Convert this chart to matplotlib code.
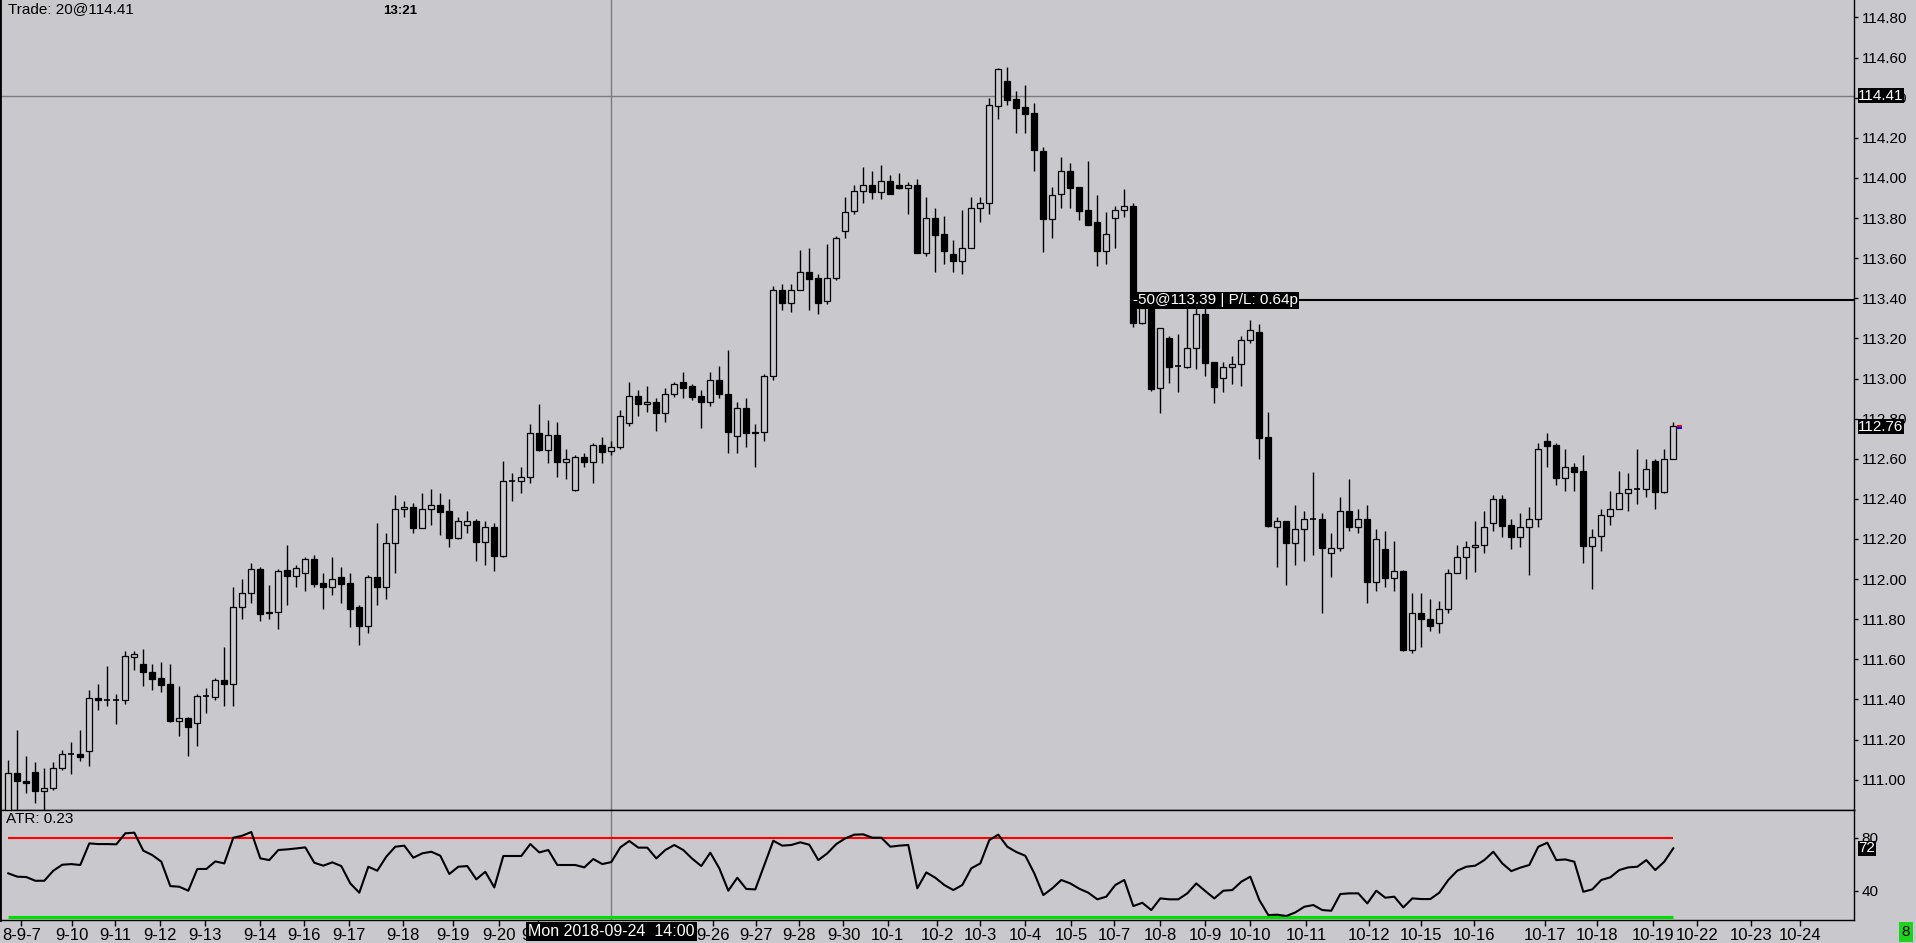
import matplotlib
matplotlib.use('Agg')
import matplotlib.pyplot as plt
import numpy as np

plt.rcParams['font.family'] = ['Liberation Sans', 'DejaVu Sans']

BG = '#c9c8cd'

opens = [110.80, 111.035, 110.996, 111.037, 110.946, 110.957, 111.057, 111.127, 111.128, 111.145,
         111.406, 111.395, 111.395, 111.395, 111.614, 111.577, 111.536, 111.506, 111.477, 111.295,
         111.306, 111.285, 111.416, 111.414, 111.496, 111.476, 111.860, 111.929, 112.049, 111.830,
         111.838, 112.046, 112.017, 112.029, 112.099, 111.979, 111.959, 112.009, 111.979, 111.860,
         111.768, 112.009, 111.959, 112.179, 112.348, 112.358, 112.257, 112.348, 112.368, 112.340,
         112.207, 112.268, 112.290, 112.187, 112.258, 112.117, 112.488, 112.488, 112.508, 112.727,
         112.644, 112.717, 112.586, 112.446, 112.607, 112.586, 112.667, 112.637, 112.657, 112.780,
         112.912, 112.872, 112.882, 112.830, 112.922, 112.981, 112.963, 112.912, 112.882, 112.991,
         112.922, 112.715, 112.852, 112.727, 112.735, 113.011, 113.440, 113.378, 113.440, 113.530,
         113.500, 113.388, 113.500, 113.737, 113.837, 113.935, 113.963, 113.932, 113.983, 113.963,
         113.952, 113.963, 113.628, 113.799, 113.721, 113.619, 113.588, 113.649, 113.849, 113.874,
         114.361, 114.482, 114.392, 114.354, 114.324, 114.135, 113.797, 113.922, 114.033, 113.955,
         113.841, 113.779, 113.638, 113.799, 113.839, 113.860, 113.279, 113.350, 112.951, 113.200,
         113.063, 113.059, 113.151, 113.320, 113.081, 113.001, 113.059, 113.071, 113.190, 113.230,
         112.707, 112.258, 112.288, 112.178, 112.248, 112.298, 112.298, 112.129, 112.157, 112.338,
         112.258, 112.298, 111.987, 112.148, 112.007, 112.040, 111.648, 111.830, 111.800, 111.780,
         111.850, 112.029, 112.109, 112.159, 112.169, 112.278, 112.398, 112.269, 112.209, 112.259,
         112.298, 112.687, 112.667, 112.506, 112.558, 112.538, 112.167, 112.217, 112.317, 112.348,
         112.428, 112.448, 112.448, 112.589, 112.436, 112.597]

highs = [111.099, 111.248, 111.119, 111.087, 111.057, 111.087, 111.148, 111.187, 111.248, 111.447,
         111.477, 111.567, 111.428, 111.642, 111.643, 111.650, 111.577, 111.585, 111.577, 111.468,
         111.315, 111.428, 111.456, 111.506, 111.662, 111.959, 111.999, 112.082, 112.062, 111.971,
         112.049, 112.170, 112.069, 112.112, 112.120, 112.029, 112.109, 112.062, 112.029, 111.871,
         112.021, 112.278, 112.228, 112.420, 112.390, 112.378, 112.429, 112.449, 112.429, 112.398,
         112.308, 112.340, 112.298, 112.290, 112.278, 112.589, 112.529, 112.561, 112.773, 112.873,
         112.793, 112.783, 112.649, 112.619, 112.627, 112.677, 112.710, 112.687, 112.843, 112.983,
         112.943, 112.963, 112.901, 112.953, 112.983, 113.033, 112.971, 112.943, 113.033, 113.063,
         113.142, 112.883, 112.901, 112.773, 113.021, 113.461, 113.471, 113.471, 113.641, 113.651,
         113.521, 113.671, 113.711, 113.905, 113.965, 114.055, 114.035, 114.065, 114.015, 114.025,
         113.982, 113.995, 113.905, 113.850, 113.809, 113.691, 113.840, 113.905, 113.905, 114.400,
         114.550, 114.555, 114.434, 114.464, 114.376, 114.153, 113.957, 114.105, 114.075, 113.955,
         114.085, 113.915, 113.831, 113.861, 113.945, 113.874, 113.360, 113.390, 113.250, 113.212,
         113.220, 113.350, 113.350, 113.350, 113.081, 113.081, 113.114, 113.212, 113.292, 113.272,
         112.833, 112.308, 112.288, 112.369, 112.338, 112.536, 112.329, 112.230, 112.409, 112.497,
         112.349, 112.369, 112.250, 112.240, 112.190, 112.045, 111.929, 111.930, 111.901, 111.891,
         112.049, 112.170, 112.190, 112.290, 112.340, 112.420, 112.420, 112.300, 112.328, 112.360,
         112.677, 112.727, 112.677, 112.649, 112.578, 112.619, 112.249, 112.350, 112.440, 112.539,
         112.529, 112.649, 112.599, 112.599, 112.649, 112.785]

lows = [110.780, 110.840, 110.932, 110.883, 110.849, 110.950, 111.049, 111.029, 111.093, 111.069,
        111.348, 111.368, 111.278, 111.378, 111.547, 111.467, 111.447, 111.438, 111.290, 111.218,
        111.119, 111.168, 111.331, 111.398, 111.369, 111.369, 111.803, 111.883, 111.793, 111.803,
        111.753, 111.873, 111.959, 111.943, 111.959, 111.853, 111.921, 111.883, 111.763, 111.673,
        111.733, 111.873, 111.903, 112.032, 112.312, 112.232, 112.257, 112.270, 112.220, 112.162,
        112.200, 112.232, 112.092, 112.071, 112.042, 112.112, 112.391, 112.431, 112.481, 112.639,
        112.581, 112.511, 112.499, 112.441, 112.561, 112.481, 112.581, 112.620, 112.650, 112.765,
        112.813, 112.835, 112.740, 112.785, 112.907, 112.905, 112.895, 112.755, 112.865, 112.903,
        112.631, 112.631, 112.661, 112.561, 112.690, 112.993, 113.342, 113.334, 113.440, 113.342,
        113.322, 113.372, 113.491, 113.701, 113.820, 113.875, 113.895, 113.895, 113.922, 113.945,
        113.820, 113.624, 113.611, 113.531, 113.571, 113.531, 113.521, 113.649, 113.782, 113.820,
        114.294, 114.364, 114.226, 114.226, 114.037, 113.633, 113.703, 113.852, 113.852, 113.791,
        113.763, 113.563, 113.573, 113.653, 113.804, 113.256, 113.270, 112.940, 112.827, 112.976,
        112.935, 113.050, 113.046, 113.013, 112.876, 112.935, 112.974, 112.964, 113.175, 112.601,
        112.262, 112.062, 111.972, 112.072, 112.092, 112.122, 111.833, 112.012, 112.142, 112.241,
        112.231, 111.883, 111.942, 111.962, 111.942, 111.640, 111.630, 111.664, 111.743, 111.733,
        111.833, 112.029, 112.001, 112.033, 112.132, 112.242, 112.212, 112.151, 112.162, 112.023,
        112.262, 112.561, 112.470, 112.441, 112.441, 112.082, 111.951, 112.141, 112.270, 112.348,
        112.342, 112.372, 112.411, 112.352, 112.431, 112.597]

closes = [111.035, 110.996, 110.986, 110.946, 110.957, 111.057, 111.127, 111.127, 111.115, 111.406,
          111.395, 111.395, 111.395, 111.617, 111.625, 111.536, 111.502, 111.472, 111.295, 111.306,
          111.265, 111.416, 111.416, 111.497, 111.476, 111.860, 111.929, 112.049, 111.828, 111.838,
          112.041, 112.017, 112.057, 112.099, 111.978, 111.959, 111.999, 111.978, 111.850, 111.768,
          112.009, 111.959, 112.179, 112.348, 112.358, 112.257, 112.348, 112.368, 112.337, 112.207,
          112.290, 112.290, 112.187, 112.258, 112.117, 112.488, 112.488, 112.508, 112.727, 112.644,
          112.717, 112.586, 112.597, 112.607, 112.586, 112.667, 112.636, 112.657, 112.812, 112.912,
          112.872, 112.882, 112.830, 112.922, 112.971, 112.951, 112.910, 112.882, 112.991, 112.922,
          112.735, 112.852, 112.727, 112.735, 113.011, 113.440, 113.378, 113.440, 113.530, 113.498,
          113.378, 113.500, 113.699, 113.829, 113.935, 113.963, 113.932, 113.983, 113.922, 113.952,
          113.963, 113.628, 113.799, 113.717, 113.638, 113.588, 113.649, 113.849, 113.874, 114.364,
          114.542, 114.389, 114.351, 114.321, 114.141, 113.797, 113.914, 114.033, 113.952, 113.837,
          113.766, 113.638, 113.719, 113.839, 113.859, 113.279, 113.350, 112.948, 113.250, 113.059,
          113.063, 113.151, 113.320, 113.079, 112.959, 113.059, 113.071, 113.190, 113.240, 112.705,
          112.267, 112.288, 112.178, 112.248, 112.298, 112.298, 112.157, 112.157, 112.338, 112.258,
          112.298, 111.987, 112.198, 112.007, 112.039, 111.648, 111.829, 111.800, 111.768, 111.850,
          112.029, 112.109, 112.159, 112.169, 112.259, 112.398, 112.267, 112.209, 112.259, 112.298,
          112.647, 112.666, 112.506, 112.558, 112.536, 112.167, 112.209, 112.320, 112.348, 112.428,
          112.448, 112.448, 112.548, 112.436, 112.597, 112.762]

atr = [53.1, 50.6, 50.3, 47.5, 47.5, 55.1, 59.6, 60.1, 59.4, 75.7,
       75.2, 75.2, 75.0, 83.3, 83.8, 70.2, 66.9, 61.9, 43.5, 43.0,
       40.0, 56.4, 56.4, 62.1, 60.6, 80.0, 81.5, 84.3, 64.4, 63.1,
       70.7, 71.2, 71.9, 72.7, 61.1, 58.9, 61.4, 58.6, 45.5, 38.5,
       58.1, 55.1, 65.7, 73.2, 74.0, 64.9, 68.2, 69.4, 66.4, 52.6,
       58.1, 58.6, 48.6, 54.3, 42.5, 66.2, 66.2, 66.2, 75.2, 68.9,
       70.7, 59.4, 59.4, 59.4, 57.6, 63.9, 60.1, 61.6, 72.7, 77.5,
       72.5, 72.5, 64.4, 70.7, 74.5, 70.7, 64.1, 58.6, 68.7, 56.9,
       40.0, 49.8, 41.3, 41.0, 59.4, 77.7, 74.0, 74.5, 76.5, 74.7,
       63.1, 68.2, 75.2, 79.5, 82.3, 82.5, 80.0, 80.0, 73.2, 74.0,
       74.5, 41.8, 53.8, 49.8, 44.3, 40.5, 44.3, 56.9, 60.6, 78.2,
       82.3, 73.2, 69.2, 66.4, 53.1, 36.7, 41.8, 48.1, 45.5, 41.5,
       38.5, 33.5, 35.5, 44.3, 48.1, 28.4, 30.9, 25.4, 34.2, 33.5,
       33.5, 38.0, 45.5, 39.7, 34.2, 40.0, 40.5, 46.8, 50.6, 33.0,
       21.6, 21.9, 20.9, 23.6, 27.9, 29.2, 25.4, 24.9, 37.5, 38.0,
       38.0, 30.4, 40.0, 34.7, 35.5, 27.4, 34.2, 33.7, 33.7, 38.5,
       48.1, 55.1, 58.1, 58.9, 63.1, 69.4, 60.6, 54.8, 57.4, 59.4,
       73.2, 76.2, 63.1, 63.6, 61.9, 39.2, 41.0, 48.1, 50.1, 55.6,
       57.6, 58.1, 63.1, 55.6, 61.9, 72.0]

xtick_labels = ['8-9-7', '9-10', '9-11', '9-12', '9-13', '9-14', '9-16', '9-17', '9-18', '9-19',
                '9-20', '9-21', '9-26', '9-27', '9-28', '9-30', '10-1', '10-2', '10-3', '10-4',
                '10-5', '10-7', '10-8', '10-9', '10-10', '10-11', '10-12', '10-15', '10-16', '10-17',
                '10-18', '10-19', '10-22', '10-23', '10-24']
xtick_pos = [1.46, 7.11, 11.87, 16.9, 21.9, 28.0, 32.9, 37.9, 43.8, 49.4,
             54.5, 58.9, 78.3, 83.1, 87.9, 92.8, 97.7, 103.2, 108.0, 113.0,
             118.1, 122.9, 128.0, 133.0, 138.0, 144.2, 151.2, 157.0, 162.8, 170.7,
             176.5, 182.7, 187.6, 193.6, 199.1]

price_ticks = [111.00, 111.20, 111.40, 111.60, 111.80, 112.00, 112.20, 112.40, 112.60, 112.80,
               113.00, 113.20, 113.40, 113.60, 113.80, 114.00, 114.20, 114.40, 114.60, 114.80]
atr_ticks = [40, 80]
atr_upper, atr_lower = 80, 20

cursor_bar = 67
cursor_price = 114.41
cursor_time = 'Mon 2018-09-24  14:00'
trade_bar = 124.75
trade_price = 113.39
trade_text = '-50@113.39 | P/L: 0.64p'
last_price = 112.76
atr_last = '72'

W, H = 1916, 943
fig = plt.figure(figsize=(W / 100, H / 100), dpi=100, facecolor=BG)
ax_w = 1854 / W
ax = fig.add_axes([0, (H - 810) / H, ax_w, 810 / H], facecolor=BG)
ax2 = fig.add_axes([0, (H - 920) / H, ax_w, 110 / H], facecolor=BG)

o = np.array(opens); c = np.array(closes); hi = np.array(highs); lo = np.array(lows)
n = len(o)
x = np.arange(n)
xmin, xmax = -8.3 / 9, (1854 - 8.3) / 9

# wicks
ax.vlines(x, lo, hi, color='black', lw=1.0, zorder=2)
up = c > o
dn = c < o
dj = c == o
bw = 0.7
ax.bar(x[up], (c - o)[up], bottom=o[up], width=bw, facecolor=BG, edgecolor='black', linewidth=0.9, zorder=3)
ax.bar(x[dn], (o - c)[dn], bottom=c[dn], width=bw, facecolor='black', edgecolor='black', linewidth=0.9, zorder=3)
ax.hlines(o[dj], x[dj] - bw / 2, x[dj] + bw / 2, color='black', lw=1.2, zorder=3)

ax.set_xlim(xmin, xmax)
ax.set_ylim(110.849, 114.887)

# crosshair
ax.axhline(cursor_price, color='#7c7c7c', lw=1.0, zorder=1)
ax.axvline(cursor_bar, color='#7c7c7c', lw=1.0, zorder=1)
ax2.axvline(cursor_bar, color='#7c7c7c', lw=1.0, zorder=1)

# trade line and label
ax.hlines(trade_price, trade_bar, xmax, color='black', lw=1.5, zorder=4)
ax.annotate(trade_text, xy=(trade_bar, trade_price), xytext=(1.5, 0), textcoords='offset points',
            ha='left', va='center', fontsize=11, color='white', zorder=10,
            bbox=dict(boxstyle='square,pad=0.08', fc='black', ec='none'))

# last-price marker
ax.hlines(last_price + 0.004, n - 1 + 0.38, n - 1 + 0.95, color='red', lw=1.5, zorder=4)
ax.hlines(last_price - 0.006, n - 1 + 0.38, n - 1 + 0.95, color='blue', lw=1.5, zorder=4)

# axes styling
for a in (ax, ax2):
    a.yaxis.tick_right()
    for s in a.spines.values():
        s.set_color('black')
        s.set_linewidth(1.0)
    a.spines['left'].set_linewidth(2.0)
ax.spines['top'].set_visible(False)
ax.set_xticks([])
ax.set_yticks(price_ticks)
ax.set_yticklabels([f'{v:.2f}' for v in price_ticks])
ax.tick_params(axis='y', direction='out', length=3, width=1, pad=2.5, labelsize=11, colors='black')

def price_box(a, y, text):
    a.annotate(text, xy=(1, y), xycoords=a.get_yaxis_transform(), xytext=(3, 0),
               textcoords='offset points', ha='left', va='center', fontsize=11, color='white',
               zorder=10, annotation_clip=False,
               bbox=dict(boxstyle='square,pad=0.04', fc='black', ec='none'))

price_box(ax, cursor_price, f'{cursor_price:.2f}')
price_box(ax, last_price, f'{last_price:.2f}')

# ATR panel
ax2.plot(x, atr, color='black', lw=1.5, zorder=3)
ax2.hlines(atr_upper, 0, n - 1, color='#ff0000', lw=1.5, zorder=2)
ax2.hlines(atr_lower, 0, n - 1, color='#00e000', lw=2.2, zorder=2)
ax2.set_xlim(xmin, xmax)
ax2.set_ylim(17.9, 100.9)
ax2.set_yticks(atr_ticks)
ax2.set_yticklabels([str(t) for t in atr_ticks])
ax2.tick_params(axis='y', direction='out', length=3, width=1, pad=2.5, labelsize=11, colors='black')
ax2.set_xticks(xtick_pos)
ax2.set_xticklabels(xtick_labels)
ax2.tick_params(axis='x', direction='out', length=4, width=1, pad=1.5, labelsize=12, colors='black')
price_box(ax2, float(atr_last), atr_last)

ax2.annotate(cursor_time, xy=(cursor_bar, 0), xycoords=ax2.get_xaxis_transform(), xytext=(0, -8.3),
             textcoords='offset points', ha='center', va='center', fontsize=11.5, color='white',
             zorder=10, annotation_clip=False,
             bbox=dict(boxstyle='square,pad=0.15', fc='black', ec='none'))

# texts
fig.text(8 / W, 1 - 2 / H, 'Trade: 20@114.41', ha='left', va='top', fontsize=11, color='black')
fig.text(400 / W, 1 - 5 / H, '13:21', ha='center', va='top', fontsize=9.5, fontweight='bold', color='black')
fig.text(6 / W, 1 - 812 / H, 'ATR: 0.23', ha='left', va='top', fontsize=11, color='black')
fig.text(1906 / W, 1 - 932 / H, '8', ha='center', va='center', fontsize=11, color='black',
         bbox=dict(boxstyle='square,pad=0.2', fc='#1ed21e', ec='none'))

fig.savefig('out.png', dpi=100, facecolor=BG)
